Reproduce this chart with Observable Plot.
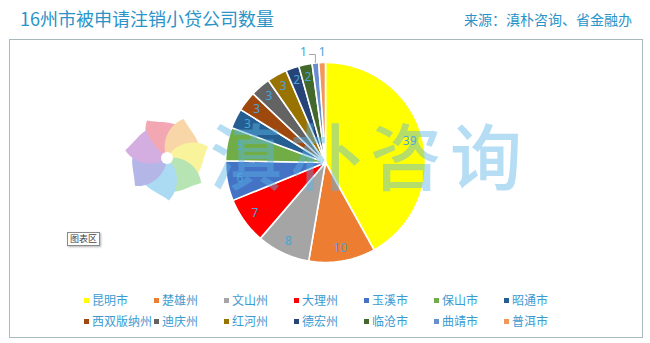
<!DOCTYPE html>
<html><head><meta charset="utf-8">
<script src="https://cdn.jsdelivr.net/npm/d3@7"></script>
<script src="https://cdn.jsdelivr.net/npm/@observablehq/plot@0.6"></script>
<style>
html,body{margin:0;padding:0;background:#fff;}
body{width:650px;height:343px;position:relative;overflow:hidden;font-family:"Noto Sans CJK SC","Noto Sans",sans-serif;}
#title{position:absolute;left:20px;top:5px;font-size:18px;color:#2a93c8;white-space:nowrap;}
#source{position:absolute;right:18px;top:9px;font-size:14px;color:#2a93c8;white-space:nowrap;}
#frame{position:absolute;left:9px;top:39px;width:632px;height:297px;border:1px solid #a9b7bf;}
#chart{position:absolute;left:10px;top:40px;}
#wm{position:absolute;left:210px;top:117px;font-size:72px;font-weight:500;line-height:1;letter-spacing:8px;color:rgba(90,180,230,0.45);white-space:nowrap;pointer-events:none;}
#logo{position:absolute;left:117px;top:108px;opacity:0.75;}
#tip{position:absolute;left:67px;top:232px;font-size:9px;line-height:12px;padding:0 2px;border:1px solid #8a8a8a;background:#fff;color:#444;box-shadow:1px 1px 2px rgba(0,0,0,0.3);}
#legend{position:absolute;left:0;top:0;}
.li{position:absolute;font-size:12px;color:#3a9bd2;white-space:nowrap;line-height:14px;}
.sw{display:inline-block;width:5px;height:5px;margin-right:3px;vertical-align:middle;position:relative;top:-1px;}
</style></head>
<body>
<div id="title">16州市被申请注销小贷公司数量</div>
<div id="source">来源：滇朴咨询、省金融办</div>
<div id="frame"></div>
<div id="chart"></div>
<div id="logo"></div>
<div id="wm">滇朴咨询</div>
<div id="tip">图表区</div>
<div id="legend"></div>
<script>
const names = ["昆明市","楚雄州","文山州","大理州","玉溪市","保山市","昭通市","西双版纳州","迪庆州","红河州","德宏州","临沧市","曲靖市","普洱市"];
const values = [39,10,8,7,6,5,3,3,3,3,2,2,1,1];
const colors = ["#FFFF00","#ED7D31","#A5A5A5","#FF0000","#4472C4","#70AD47","#255E91","#9E480E","#636363","#997300","#264478","#43682B","#698ED0","#F1975A"];

const W = 630, H = 245;
const arcs = d3.pie().sort(null).value(d => d)(values);
const polys = [];
arcs.forEach((a, i) => {
  const n = Math.max(2, Math.ceil((a.endAngle - a.startAngle) / 0.01));
  polys.push({name: names[i], color: colors[i], x: 0, y: 0});
  for (let k = 0; k <= n; k++) {
    const t = a.startAngle + (a.endAngle - a.startAngle) * k / n;
    polys.push({name: names[i], color: colors[i], x: Math.sin(t), y: Math.cos(t)});
  }
  polys.push({name: names[i], color: colors[i], x: 0, y: 0});
});
const inner = [], outer = [], leaders = [];
arcs.forEach((a, i) => {
  const m = (a.startAngle + a.endAngle) / 2;
  if (values[i] > 1) inner.push({label: String(values[i]), x: 0.87 * Math.sin(m), y: 0.87 * Math.cos(m)});
  else outer.push({label: String(values[i]), x: Math.sin(m), y: 1.1, lead: i === values.length - 2});
  if (values[i] <= 1 && i === values.length - 2) {
    leaders.push({x: Math.sin(m) - 0.06, y: 1.08}, {x: Math.sin(m), y: 1.08}, {x: Math.sin(m), y: 1.0});
  }
});

const chart = Plot.plot({
  width: W, height: H, margin: 0,
  x: {domain: [-3.15, 3.15], axis: null},
  y: {domain: [-1.23, 1.22], axis: null},
  style: {background: "transparent", overflow: "visible"},
  marks: [
    Plot.line(polys, {x: "x", y: "y", z: "name", fill: "color", stroke: "#fff", strokeWidth: 1.6, strokeLinejoin: "round"}),
    Plot.line(leaders, {x: "x", y: "y", stroke: "#a6a6a6", strokeWidth: 1}),
    Plot.text(inner, {x: "x", y: "y", text: "label", fill: "#47a3d8", fontSize: 12, fontFamily: "Noto Sans, sans-serif"}),
    Plot.text(outer, {x: "x", y: "y", text: "label", fill: "#47a3d8", fontSize: 12, fontFamily: "Noto Sans, sans-serif"}),
  ]
});
document.getElementById("chart").appendChild(chart);
// shift the 曲靖 outside label left to sit by its leader line
chart.querySelectorAll("g[aria-label=text]")[1].querySelectorAll("text").forEach((t, j) => {
  if (outer[j].lead) t.setAttribute("transform", (t.getAttribute("transform") || "") + " translate(-12,0)");
});

// legend
const lg = document.getElementById("legend");
names.forEach((n, i) => {
  const col = i % 7, row = Math.floor(i / 7);
  const d = document.createElement("div");
  d.className = "li";
  d.style.left = (84 + col * 70) + "px";
  d.style.top = (293 + row * 21) + "px";
  d.innerHTML = `<span class="sw" style="background:${colors[i]}"></span>${n}`;
  lg.appendChild(d);
});

// decorative pinwheel logo
const petals = ["#f08a9a","#f7c98a","#f7ef7a","#9fdc9a","#8fd0f0","#9a9ee0","#c894d8"];
const ns = "http://www.w3.org/2000/svg";
const svg = document.createElementNS(ns, "svg");
svg.setAttribute("width", 100); svg.setAttribute("height", 100);
petals.forEach((c, i) => {
  const p = document.createElementNS(ns, "path");
  p.setAttribute("d", "M0,0 C-14,-10 -16,-30 -6,-42 C4,-36 14,-34 20,-28 C10,-22 6,-12 0,0 Z");
  p.setAttribute("fill", c);
  p.setAttribute("transform", `translate(50,50) rotate(${i * 360 / 7 - 20})`);
  svg.appendChild(p);
});
const cc = document.createElementNS(ns, "circle");
cc.setAttribute("cx", 50); cc.setAttribute("cy", 50); cc.setAttribute("r", 6); cc.setAttribute("fill", "#fff");
svg.appendChild(cc);
document.getElementById("logo").appendChild(svg);
</script>
</body></html>
